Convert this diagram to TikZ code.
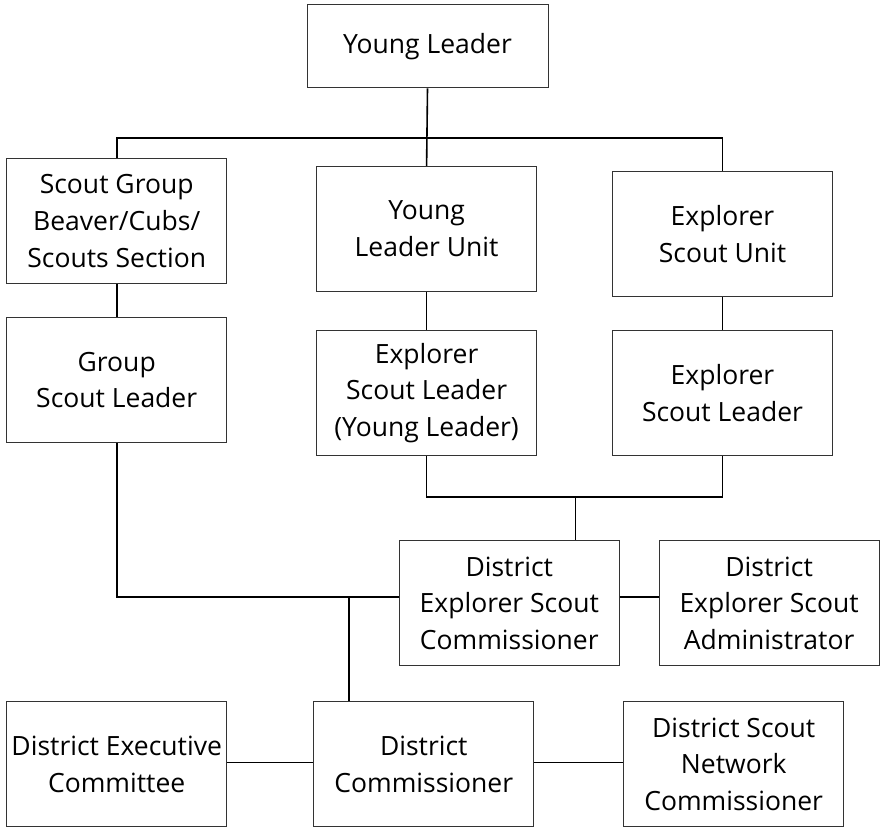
\documentclass[tikz,border=0pt]{standalone}
\usepackage{fontspec}
\setmainfont{Open Sans}
\usetikzlibrary{positioning}

\begin{document}
\begin{tikzpicture}[
    x=1pt, y=-1pt,
    every node/.style={font=\fontsize{26.5}{36.7}\selectfont},
    role/.style={
        draw=black!80,
        line width=1pt,
        rectangle,
        align=center,
        minimum width=220pt,
        minimum height=125pt,
        inner sep=0pt
    },
    link/.style={line width=1.6pt, black}
]
\useasboundingbox (0,0) rectangle (880,827);

% top
\node[role, minimum width=241pt, minimum height=83pt] (yl) at (427.5,46.3) {Young Leader};
% units
\node[role] (sg) at (116.7,221.2) {Scout Group\\Beaver/Cubs/\\Scouts Section};
\node[role] (ylu) at (426.6,228.8) {Young\\Leader Unit};
\node[role] (esu) at (722.5,234) {Explorer\\Scout Unit};
% leaders
\node[role] (gsl) at (116.7,380) {Group\\Scout Leader};
\node[role] (eslyl) at (426.6,393) {Explorer\\Scout Leader\\(Young Leader)};
\node[role] (esl) at (722.5,393) {Explorer\\Scout Leader};
% district
\node[role] (desc) at (509.3,603.2) {District\\Explorer Scout\\Commissioner};
\node[role] (desa) at (769.1,603.2) {District\\Explorer Scout\\Administrator};
\node[role] (dec) at (116.7,764.2) {District Executive\\Committee};
\node[role] (dc) at (423.8,764.2) {District\\Commissioner};
\node[role] (dsnc) at (733.7,764.2) {District Scout\\Network\\Commissioner};

% junctions
\coordinate (topbus) at (427.5,137.7);
\coordinate (midbus) at (575.4,497);
\coordinate (lowbus) at (348.7,597);

% connectors
\draw[link] (yl.south) -- (ylu.north);
\draw[link] (sg.north) |- (topbus) -| (esu.north);
\draw[link] (sg.south) -- (gsl.north);
\draw[link] (ylu.south) -- (eslyl.north);
\draw[link] (esu.south) -- (esl.north);
\draw[link] (eslyl.south) |- (midbus) -| (esl.south);
\draw[link] (midbus) -- (midbus |- desc.north);
\draw[link] (gsl.south) |- (lowbus) -- (lowbus -| desc.west);
\draw[link] (lowbus -| desc.east) -- (lowbus -| desa.west);
\draw[link] (lowbus) -- (lowbus |- dc.north);
\draw[link] (dec.east |- 0,762.3) -- (dc.west |- 0,762.3);
\draw[link] (dc.east |- 0,762.3) -- (dsnc.west |- 0,762.3);
\end{tikzpicture}
\end{document}
